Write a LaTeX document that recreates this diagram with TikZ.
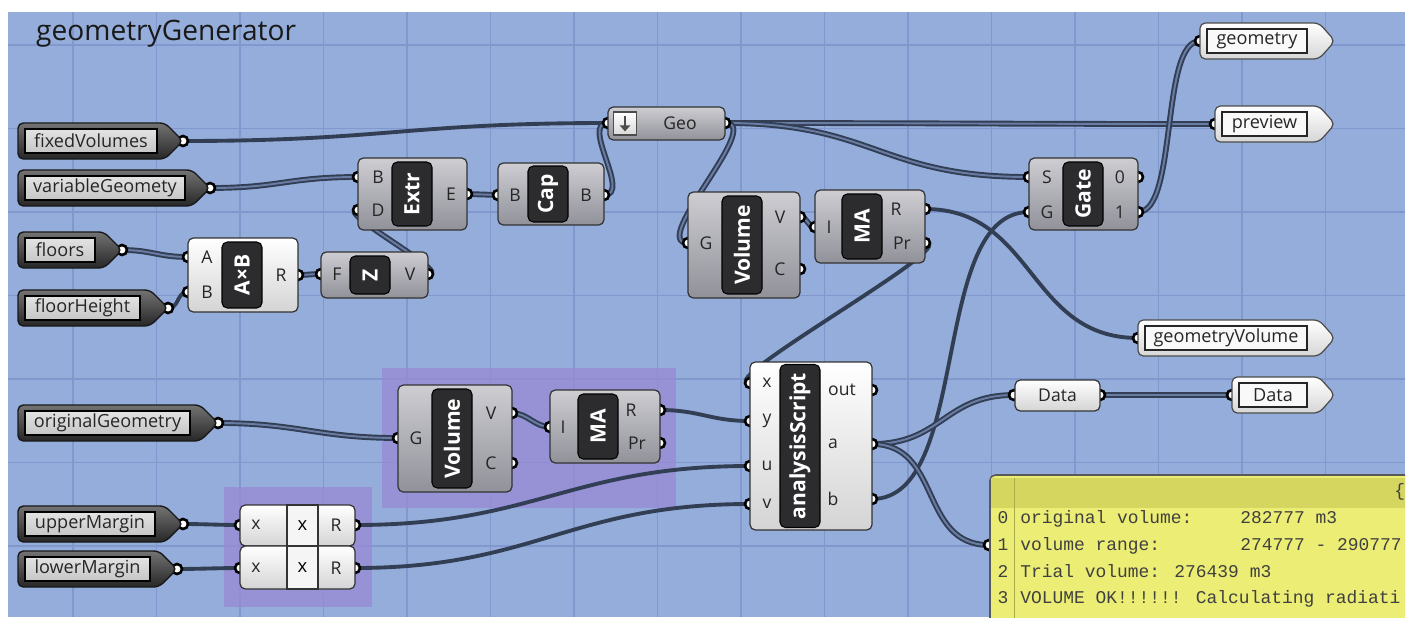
\documentclass[tikz,border=0pt]{standalone}
\usepackage{fontspec}
\setmainfont{Open Sans}
\newfontfamily\panelfont{Liberation Mono}
\usetikzlibrary{arrows.meta,calc}
\definecolor{CanvasBlue}{RGB}{149,173,218}
\definecolor{GridBlue}{RGB}{128,152,206}
\definecolor{GroupPurple}{RGB}{152,138,212}
\definecolor{WireDark}{RGB}{50,62,84}
\definecolor{WireInner}{RGB}{104,124,164}
\definecolor{CompTop}{RGB}{205,205,210}
\definecolor{CompBot}{RGB}{145,145,154}
\definecolor{LightBot}{RGB}{212,212,212}
\definecolor{CoreBlack}{RGB}{44,44,46}
\definecolor{PanelYellow}{RGB}{236,237,116}
\definecolor{PanelHead}{RGB}{212,214,96}

\pgfdeclarelayer{canvas}
\pgfdeclarelayer{wires}
\pgfdeclarelayer{ports}
\pgfsetlayers{canvas,wires,ports,main}

% socket: name, x, y
\newcommand{\sock}[3]{%
  \coordinate (#1) at (#2,#3);
  \begin{pgfonlayer}{ports}\node[port] (#1-p) at (#1) {};\end{pgfonlayer}}
% socket with label: name, x, y, label, label x
\newcommand{\sockl}[5]{%
  \sock{#1}{#2}{#3}
  \node[plabel] (#1-l) at (#5,#3) {#4};}
% dark input parameter: name, tip x, y, inner end x, text
\newcommand{\paramin}[5]{%
  \draw[parin] (18,#3-18) -- (#2-18,#3-18) -- (#2,#3) -- (#2-18,#3+18) -- (18,#3+18) -- cycle;
  \node[parinbox, minimum width={(#4-25)*0.02cm}] (#1) at ({(#4+25)/2},#3) {#5};
  \sock{#1-o}{#2}{#3}}
% light output parameter: name, left x, y, text
\newcommand{\paramout}[4]{%
  \draw[parout] (#2,#3-18) -- (1319,#3-18) -- (1335,#3) -- (1319,#3+18) -- (#2,#3+18) -- cycle;
  \node[paroutbox, minimum width={(1307-#2-7)*0.02cm}] (#1) at ({(#2+7+1307)/2},#3) {#4};
  \sock{#1-i}{#2}{#3}}

\begin{document}
\begin{tikzpicture}[x=0.02cm, y=-0.02cm,
    comp/.style={rectangle, rounded corners=3pt, draw=black!80, line width=0.7pt,
                 top color=CompTop, bottom color=CompBot, inner sep=0pt},
    lightcomp/.style={comp, top color=white, bottom color=LightBot},
    core/.style={rectangle, rounded corners=3pt, draw=black, line width=0.6pt, fill=CoreBlack,
                 text=white, font=\bfseries\fontsize{12}{14}\selectfont, rotate=90,
                 minimum height=0.8cm, inner sep=0pt},
    midbox/.style={rectangle, draw=black!80, line width=0.7pt, fill=white!92!gray,
                   font=\fontsize{10.5}{12}\selectfont, inner sep=0pt},
    plabel/.style={font=\fontsize{10}{12}\selectfont, text=black!85, inner sep=0pt},
    port/.style={circle, minimum size=0.2cm, inner sep=0pt, fill=white, draw=black, line width=1.5pt},
    parin/.style={draw=black!90, line width=0.8pt, top color=black!55, bottom color=black!85, rounded corners=3pt},
    parinbox/.style={rectangle, draw=black, line width=0.8pt, top color=gray!22, bottom color=gray!45,
                     minimum height=0.48cm, inner sep=0pt, font=\fontsize{10.3}{12}\selectfont, text=black!85},
    parout/.style={draw=black!70, line width=0.7pt, top color=white, bottom color=gray!32, rounded corners=3pt},
    paroutbox/.style={rectangle, draw=black!85, line width=0.8pt, fill=white!95!gray,
                      minimum height=0.48cm, inner sep=0pt, font=\fontsize{10.3}{12}\selectfont, text=black!85},
    swire/.style={draw=WireDark, line width=2.2pt},
    dwire/.style={draw=WireDark, line width=1.1pt, double=WireInner, double distance=1.1pt},
    gridline/.style={draw=GridBlue, line width=0.9pt},
    groupbox/.style={fill=GroupPurple, fill opacity=0.8},
    paneltxt/.style={font=\panelfont\fontsize{10.2}{12}\selectfont, text=black!75, inner sep=0pt}
]
\useasboundingbox (0,0) rectangle (1413,619);

% canvas, grid and groups
\begin{pgfonlayer}{canvas}
  \fill[CanvasBlue] (8,12) rectangle (1405,617);
  \foreach \gx in {0,...,15} \draw[gridline] ({73+83.5*\gx},12) -- ({73+83.5*\gx},617);
  \foreach \gy in {0,...,6} \draw[gridline] (8,{45+83.5*\gy}) -- (1405,{45+83.5*\gy});
  \fill[groupbox] (382,368) rectangle (676,508);
  \fill[groupbox] (224,487) rectangle (372,607);
\end{pgfonlayer}

\node[anchor=base west, font=\fontsize{16}{19}\selectfont, text=black!90] (title) at (30,40) {geometryGenerator};

% input parameters
\paramin{fixvol}{183}{141}{157}{fixedVolumes}
\paramin{vargeo}{210}{188}{185}{variableGeomety}
\paramin{floors}{122}{250}{95}{floors}
\paramin{flheight}{168}{308}{140}{floorHeight}
\paramin{origgeo}{218}{423}{190}{originalGeometry}
\paramin{upmargin}{183}{524}{155}{upperMargin}
\paramin{lomargin}{177}{569}{150}{lowerMargin}

% output parameters
\paramout{geomout}{1200}{41}{geometry}
\paramout{prevout}{1215}{124}{preview}
\paramout{gvolout}{1138}{338}{geometryVolume}
\paramout{dataout}{1232}{395}{Data}

% Extr
\node[comp, minimum width=2.18cm, minimum height=1.44cm] (extr) at (412.5,194) {};
\node[core, minimum width=1.28cm] (extrc) at (412,194) {Extr};
\sockl{extrB}{358}{177}{B}{378}
\sockl{extrD}{358}{210}{D}{378}
\sockl{extrE}{467}{194}{E}{451}

% Cap
\node[comp, minimum width=2.12cm, minimum height=1.24cm] (cap) at (551,194) {};
\node[core, minimum width=1.12cm] (capc) at (548,194) {Cap};
\sockl{capI}{498}{195}{B}{515}
\sockl{capO}{604}{195}{B}{586}

% Geo
\node[comp, minimum width=2.34cm, minimum height=0.66cm] (geo) at (666.5,123.5) {};
\node[rectangle, draw=black!70, line width=0.6pt, top color=white, bottom color=gray!30,
      minimum size=0.46cm, inner sep=0pt] (geoicon) at (625,123.5) {};
\draw[-{Triangle[length=3.5pt,width=6pt]}, line width=1.5pt, black!70]
  ([yshift=4.5pt]geoicon.center) -- ([yshift=-4.5pt]geoicon.center);
\node[plabel] (geolbl) at (680,123) {Geo};
\sock{geoI}{608}{123}
\sock{geoO}{725}{123}

% A x B
\node[lightcomp, minimum width=2.2cm, minimum height=1.48cm] (axb) at (243,275) {};
\node[core, minimum width=1.32cm] (axbc) at (242,275) {A×B};
\sockl{axbA}{188}{257}{A}{207}
\sockl{axbB}{188}{292}{B}{207}
\sockl{axbR}{298}{275}{R}{281}

% Z
\node[comp, minimum width=2.14cm, minimum height=0.92cm] (zvec) at (374.5,275) {};
\node[core, minimum width=0.76cm] (zvecc) at (370,275) {Z};
\sockl{zvecF}{321}{274}{F}{337}
\sockl{zvecV}{428}{274}{V}{410}

% Volume (top)
\node[comp, minimum width=2.24cm, minimum height=2.12cm] (volt) at (744,245) {};
\node[core, minimum width=1.96cm] (voltc) at (742,245) {Volume};
\sockl{voltG}{688}{243}{G}{706}
\sockl{voltV}{800}{217}{V}{780}
\sockl{voltC}{800}{269}{C}{780}

% MA (top)
\node[comp, minimum width=2.2cm, minimum height=1.46cm] (mat) at (870,226.5) {};
\node[core, minimum width=1.3cm] (matc) at (862,226.5) {MA};
\sockl{matI}{815}{227}{I}{829}
\sockl{matR}{925}{209}{R}{896}
\sockl{matPr}{925}{243}{Pr}{902}

% Gate
\node[comp, minimum width=2.18cm, minimum height=1.44cm] (gate) at (1083.5,194) {};
\node[core, minimum width=1.28cm] (gatec) at (1083,194) {Gate};
\sockl{gateS}{1029}{177}{S}{1047}
\sockl{gateG}{1029}{212}{G}{1047}
\sockl{gateZero}{1138}{177}{0}{1120}
\sockl{gateOne}{1138}{212}{1}{1120}

% Volume (bottom)
\node[comp, minimum width=2.28cm, minimum height=2.14cm] (volb) at (455,438.5) {};
\node[core, minimum width=1.98cm] (volbc) at (452,438.5) {Volume};
\sockl{volbG}{398}{438}{G}{416}
\sockl{volbV}{512}{413}{V}{491}
\sockl{volbC}{512}{463}{C}{491}

% MA (bottom)
\node[comp, minimum width=2.2cm, minimum height=1.46cm] (mab) at (605,426.5) {};
\node[core, minimum width=1.3cm] (mabc) at (598,426.5) {MA};
\sockl{mabI}{550}{427}{I}{563}
\sockl{mabR}{660}{410}{R}{631}
\sockl{mabPr}{660}{443}{Pr}{637}

% analysisScript
\node[lightcomp, minimum width=2.44cm, minimum height=3.36cm] (script) at (811,446) {};
\node[core, minimum width=3.26cm] (scriptc) at (800,446) {analysisScript};
\sockl{scrX}{750}{383}{x}{767}
\sockl{scrY}{750}{421}{y}{767}
\sockl{scrU}{750}{466}{u}{767}
\sockl{scrV}{750}{504}{v}{767}
\sockl{scrOut}{872}{390}{out}{842}
\sockl{scrA}{872}{444}{a}{833}
\sockl{scrB}{872}{499}{b}{833}

% x * R pair
\node[lightcomp, minimum width=2.3cm, minimum height=0.82cm] (mulup) at (297.5,525.5) {};
\node[midbox, minimum width=0.62cm, minimum height=0.82cm] (mulupm) at (302.5,525.5) {x};
\sockl{mulupX}{240}{525}{x}{256}
\sockl{mulupR}{355}{525}{R}{336}
\node[lightcomp, minimum width=2.3cm, minimum height=0.86cm] (mullo) at (297.5,567.5) {};
\node[midbox, minimum width=0.62cm, minimum height=0.86cm] (mullom) at (302.5,567.5) {x};
\sockl{mulloX}{240}{568}{x}{256}
\sockl{mulloR}{355}{568}{R}{336}

% Data
\node[lightcomp, minimum width=1.7cm, minimum height=0.62cm, font=\fontsize{10}{12}\selectfont,
      text=black!85] (data) at (1057.5,395.5) {Data};
\sock{dataI}{1014}{395}
\sock{dataO}{1100}{395}

% panel
\sock{panelI}{989}{545}
\begin{scope}
  \clip (8,12) rectangle (1405,617);
  \draw[draw=black!65, line width=0.9pt, fill=PanelYellow, rounded corners=3pt] (990,475) rectangle (1440,660);
  \fill[PanelHead] (991,478) rectangle (1440,508);
  \draw[draw=PanelHead!80!black, line width=0.5pt] (1014,478) -- (1014,660);
  \node[paneltxt, anchor=base west] (panelbr) at (1394,496) {\{};
  \node[paneltxt, anchor=base] (idx0) at (1003,523) {0};
  \node[paneltxt, anchor=base] (idx1) at (1003,550) {1};
  \node[paneltxt, anchor=base] (idx2) at (1003,577) {2};
  \node[paneltxt, anchor=base] (idx3) at (1003,603) {3};
  \node[paneltxt, anchor=base west] (row0) at (1020,523) {original volume:};
  \node[paneltxt, anchor=base west] (val0) at (1240,523) {282777 m3};
  \node[paneltxt, anchor=base west] (row1) at (1020,550) {volume range:};
  \node[paneltxt, anchor=base west] (val1) at (1240,550) {274777 - 290777};
  \node[paneltxt, anchor=base west] (row2) at (1020,577) {Trial volume: 276439 m3};
  \node[paneltxt, anchor=base west] (row3) at (1020,603) {VOLUME OK!!!!!! Calculating radiati};
\end{scope}

% wires
\begin{pgfonlayer}{wires}
  \draw[swire] (fixvol-o) .. controls +(200,0) and +(-200,0) .. (geoI);
  \draw[dwire] (vargeo-o) .. controls +(70,0) and +(-70,0) .. (extrB);
  \draw[dwire] (floors-o) .. controls +(30,0) and +(-30,0) .. (axbA);
  \draw[swire] (flheight-o) .. controls +(12,0) and +(-12,0) .. (axbB);
  \draw[dwire] (axbR) .. controls +(10,0) and +(-10,0) .. (zvecF);
  \draw[dwire] (zvecV) .. controls +(25,0) and +(-25,0) .. (extrD);
  \draw[dwire] (extrE) .. controls +(15,0) and +(-15,0) .. (capI);
  \draw[dwire] (capO) .. controls +(28,0) and +(-28,0) .. (geoI);
  \draw[dwire] (geoO) .. controls +(200,0) and +(-200,0) .. (prevout-i);
  \draw[dwire] (geoO) .. controls +(150,0) and +(-150,0) .. (gateS);
  \draw[dwire] (geoO) .. controls +(40,0) and +(-40,0) .. (voltG);
  \draw[dwire] (voltV) .. controls +(8,0) and +(-8,0) .. (matI);
  \draw[swire] (matR) .. controls +(110,0) and +(-110,0) .. (gvolout-i);
  \draw[swire] (matPr) .. controls +(40,0) and +(-40,0) .. (scrX);
  \draw[swire] (scrB) .. controls +(100,0) and +(-100,0) .. (gateG);
  \draw[dwire] (scrA) .. controls +(70,0) and +(-70,0) .. (dataI);
  \draw[dwire] (scrA) .. controls +(70,0) and +(-70,0) .. (panelI);
  \draw[dwire] (gateOne) .. controls +(40,0) and +(-40,0) .. (geomout-i);
  \draw[dwire] (dataO) .. controls +(50,0) and +(-50,0) .. (dataout-i);
  \draw[dwire] (origgeo-o) .. controls +(80,0) and +(-80,0) .. (volbG);
  \draw[dwire] (volbV) .. controls +(15,0) and +(-15,0) .. (mabI);
  \draw[swire] (mabR) .. controls +(40,0) and +(-40,0) .. (scrY);
  \draw[swire] (mulupR) .. controls +(180,0) and +(-180,0) .. (scrU);
  \draw[swire] (mulloR) .. controls +(180,0) and +(-180,0) .. (scrV);
  \draw[swire] (upmargin-o) .. controls +(20,0) and +(-20,0) .. (mulupX);
  \draw[swire] (lomargin-o) .. controls +(20,0) and +(-20,0) .. (mulloX);
\end{pgfonlayer}
\end{tikzpicture}
\end{document}
